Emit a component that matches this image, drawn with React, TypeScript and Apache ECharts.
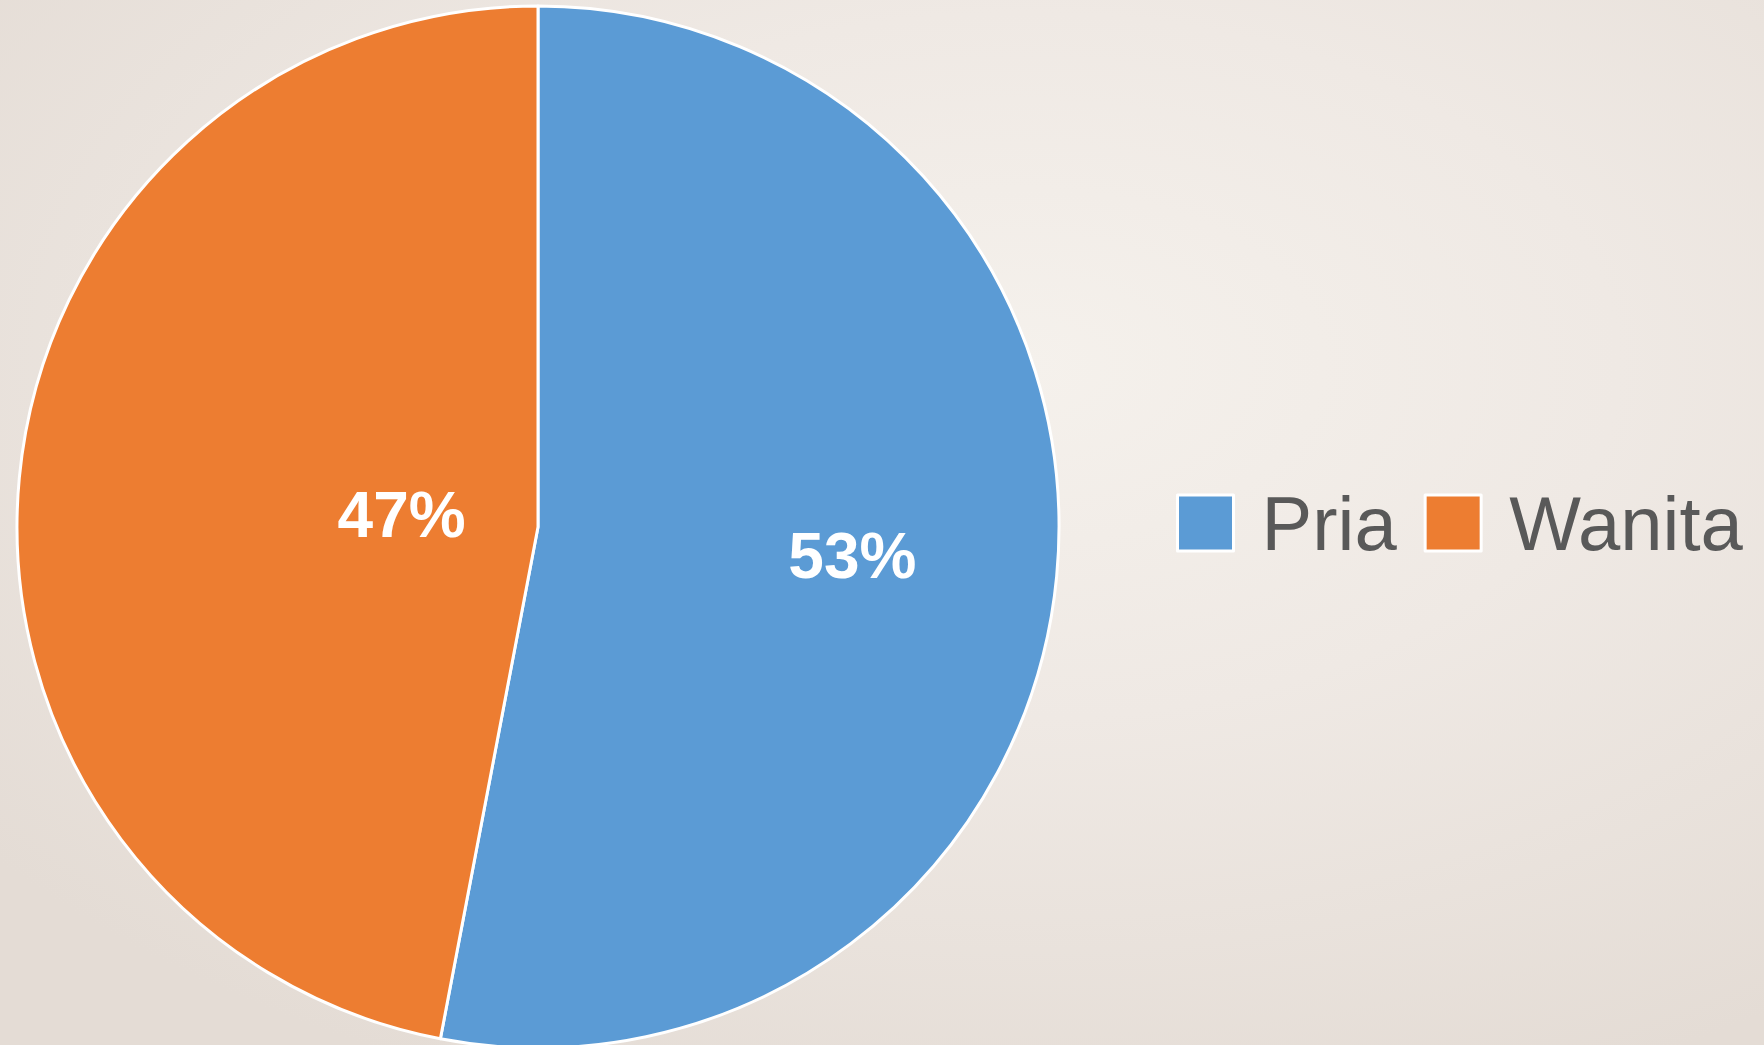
import React, { useEffect, useRef } from "react";
import * as echarts from "echarts";

const categories = ["Pria", "Wanita"];
const values = [53, 47];
const colors = ["#5B9BD5", "#ED7D31"];
const labelOffsets = [[52, 4], [126, 13]];

export default function App() {
  const ref = useRef<HTMLDivElement>(null);
  useEffect(() => {
    document.body.style.margin = "0";
    const chart = echarts.init(ref.current!, null, { renderer: "svg" });
    chart.setOption({
      animation: false,
      legend: {
        left: 1171,
        top: 480,
        orient: "horizontal",
        itemWidth: 56,
        itemHeight: 56,
        itemGap: 27,
        icon: "rect",
        data: categories,
        itemStyle: { borderColor: "#ffffff", borderWidth: 3 },
        textStyle: {
          color: "#595959",
          fontSize: 76,
          fontFamily: "Liberation Sans",
          padding: [0, 0, 0, 23],
        },
      },
      series: [
        {
          type: "pie",
          center: [538, 527],
          radius: 521,
          startAngle: 90,
          clockwise: true,
          label: {
            show: true,
            position: "inside",
            formatter: (p: any) => `${p.value}%`,
            color: "#ffffff",
            fontSize: 64,
            fontWeight: "bold",
            fontFamily: "Liberation Sans",
          },
          labelLine: { show: false },
          itemStyle: { borderColor: "#ffffff", borderWidth: 3 },
          data: categories.map((name, i) => ({
            name,
            value: values[i],
            itemStyle: { color: colors[i] },
            label: { offset: labelOffsets[i] },
          })),
        },
      ],
    });
    return () => chart.dispose();
  }, []);
  return (
    <div
      ref={ref}
      style={{
        position: "absolute",
        left: 0,
        top: 0,
        width: 1764,
        height: 1045,
        background:
          "radial-gradient(ellipse 75% 75% at 58% 35%, #f5f1ec 0%, #efe9e4 45%, #e4dcd5 100%)",
      }}
    />
  );
}
